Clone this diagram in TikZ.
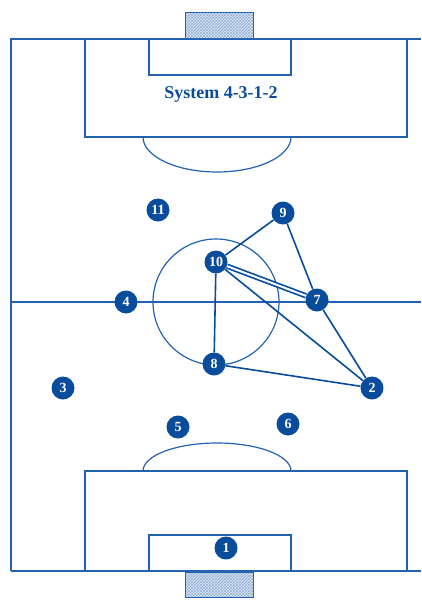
\documentclass[tikz,border=0pt]{standalone}
\usepackage{fontspec}
\setmainfont{Liberation Serif}
\usepackage{xcolor}
\usetikzlibrary{patterns}

\definecolor{pitchblue}{HTML}{2362B0}
\definecolor{dotblue}{HTML}{0A4C9C}

\begin{document}
\begin{tikzpicture}[
  x=1pt, y=-1pt,
  pitch/.style={draw=pitchblue, line width=1.2pt},
  goal/.style={preaction={fill=pitchblue!14},
               pattern=crosshatch, pattern color=pitchblue!50},
  player/.style={circle, fill=dotblue, text=white, inner sep=0pt,
                 minimum size=23pt, font=\fontsize{14}{14}\selectfont\bfseries},
  link/.style={draw=dotblue, line width=1.6pt},
  twin/.style={draw=dotblue, line width=1.7pt, double=white, double distance=2pt}
]
  \useasboundingbox (0,0) rectangle (421,600);

  % pitch
  \draw[pitch] (11,571) -- (11,39) -- (421,39);
  \draw[pitch] (11,571) -- (421,571);
  \draw[pitch] (11,302) -- (421,302);
  \draw[pitch] (216,302) circle[radius=63pt];
  \draw[pitch] (85,39) rectangle (407,137);
  \draw[pitch] (149,39) rectangle (291,75);
  \draw[pitch] (143,137) arc[start angle=180, end angle=0, x radius=74, y radius=35];
  \draw[pitch] (85,571) rectangle (407,471);
  \draw[pitch] (149,571) rectangle (291,535);
  \draw[pitch] (143,471) arc[start angle=180, end angle=360, x radius=74, y radius=28];

  % goals
  \path[goal] (185,12) rectangle (253,38);
  \path[goal] (185,572) rectangle (253,597);
  \draw[pitch, line width=1pt] (185,12) rectangle (253,38);
  \draw[pitch, line width=1pt] (185,572) rectangle (253,597);

  \node[text=dotblue, font=\fontsize{18}{20}\selectfont\bfseries] (title)
    at (221,94) {System 4-3-1-2};

  % players
  \node[player] (p1) at (226,548) {1};
  \node[player] (p2) at (372,388) {2};
  \node[player] (p3) at (63,388) {3};
  \node[player] (p4) at (126,302) {4};
  \node[player] (p5) at (178,427) {5};
  \node[player] (p6) at (288,424) {6};
  \node[player] (p7) at (317,300) {7};
  \node[player] (p8) at (214,364) {8};
  \node[player] (p9) at (283,213) {9};
  \node[player] (p10) at (216,262) {10};
  \node[player] (p11) at (158,210) {11};

  % passing lines
  \draw[link] (p10) -- (p9);
  \draw[link] (p9) -- (p7);
  \draw[twin] (p10) -- (p7);
  \draw[link] (p10) -- (p8);
  \draw[link] (p10) -- (p2);
  \draw[link] (p7) -- (p2);
  \draw[link] (p8) -- (p2);
\end{tikzpicture}
\end{document}
